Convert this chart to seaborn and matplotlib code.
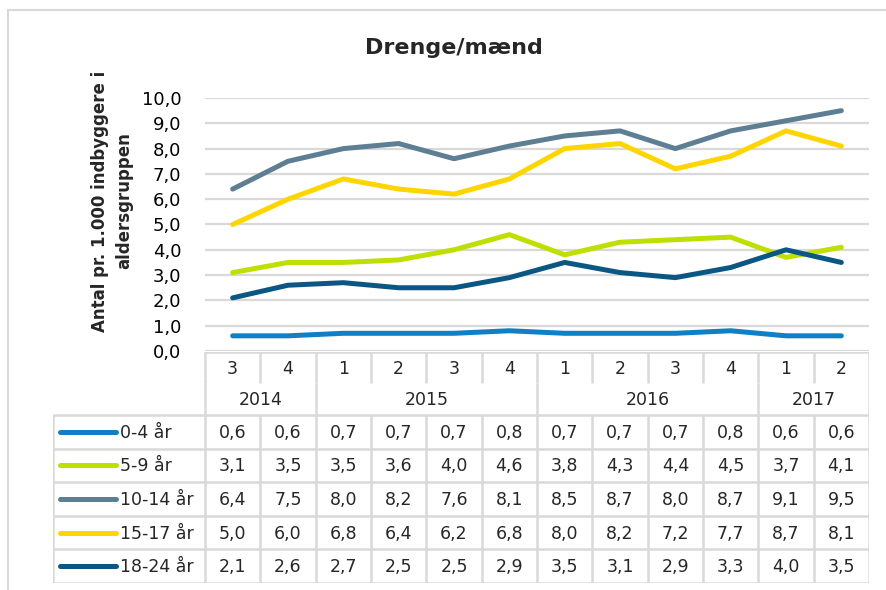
import matplotlib
matplotlib.use("Agg")
import matplotlib.pyplot as plt
import matplotlib.patches as mpatches
from matplotlib.ticker import FuncFormatter
import seaborn as sns
import pandas as pd

# ---- data ----
quarters = ["3", "4", "1", "2", "3", "4", "1", "2", "3", "4", "1", "2"]
years = ["2014", "2015", "2016", "2017"]
year_spans = [2, 4, 4, 2]
series_names = ["0-4 år", "5-9 år", "10-14 år", "15-17 år", "18-24 år"]
v_0_4 = [0.6, 0.6, 0.7, 0.7, 0.7, 0.8, 0.7, 0.7, 0.7, 0.8, 0.6, 0.6]
v_5_9 = [3.1, 3.5, 3.5, 3.6, 4.0, 4.6, 3.8, 4.3, 4.4, 4.5, 3.7, 4.1]
v_10_14 = [6.4, 7.5, 8.0, 8.2, 7.6, 8.1, 8.5, 8.7, 8.0, 8.7, 9.1, 9.5]
v_15_17 = [5.0, 6.0, 6.8, 6.4, 6.2, 6.8, 8.0, 8.2, 7.2, 7.7, 8.7, 8.1]
v_18_24 = [2.1, 2.6, 2.7, 2.5, 2.5, 2.9, 3.5, 3.1, 2.9, 3.3, 4.0, 3.5]
series_values = [v_0_4, v_5_9, v_10_14, v_15_17, v_18_24]
colors = ["#0f7fc6", "#bfdf00", "#5e7e94", "#ffd500", "#0b5784"]
title = "Drenge/mænd"
ylabel = "Antal pr. 1.000 indbyggere i\naldersgruppen"

sns.set_theme(style="white")
plt.rcParams["font.family"] = ["DejaVu Sans"]

W, H = 886, 590
fig = plt.figure(figsize=(W / 100, H / 100), dpi=100)

def fx(px):
    return px / W

def fy(py):
    return 1 - py / H

FS = 12.5

# main axes
ax_left, ax_right, ax_top, ax_bot = 205, 869, 98, 351
ax = fig.add_axes([fx(ax_left), fy(ax_bot), fx(ax_right - ax_left), (ax_bot - ax_top) / H])

rows = []
for name, vals in zip(series_names, series_values):
    for i, v in enumerate(vals):
        rows.append({"pos": i, "value": v, "serie": name})
df = pd.DataFrame(rows)

sns.lineplot(data=df, x="pos", y="value", hue="serie", palette=colors,
             hue_order=series_names, ax=ax, lw=3.6, legend=False,
             solid_capstyle="round", solid_joinstyle="round")
ncol = len(quarters)
ax.set_xlim(-0.5, ncol - 0.5)
ax.set_ylim(0, 10)
ax.set_yticks(range(0, 11))
ax.yaxis.set_major_formatter(FuncFormatter(lambda v, p: f"{v:.1f}".replace(".", ",")))
ax.tick_params(axis="y", length=0, pad=17, labelsize=13, labelcolor="black")
ax.set_xticks([])
ax.set_xlabel("")
ax.set_ylabel("")
ax.grid(axis="y", color="#d9d9d9", lw=1.6)
ax.set_axisbelow(True)
for s in ax.spines.values():
    s.set_visible(False)

fig.text(fx(454), fy(48), title, ha="center", va="center", fontsize=16, fontweight="bold")
fig.text(fx(112), fy(201), ylabel, ha="center", va="center", rotation=90,
         fontsize=12, fontweight="bold", multialignment="center", linespacing=1.45)

# table axes (x in category units, y in pixel units)
tab_left, tab_top, tab_bot = 53, 352, 583
colw = (ax_right - ax_left) / ncol
tab = fig.add_axes([fx(tab_left), fy(tab_bot), fx(ax_right - tab_left), (tab_bot - tab_top) / H])
x_leg = -0.5 - (ax_left - tab_left) / colw
tab.set_xlim(x_leg, ncol - 0.5)
tab.set_ylim(tab_bot, tab_top)
tab.axis("off")

gc = "#d9d9d9"
glw = 1.8
q_top, q_bot, y_bot = 352, 383, 415
row_h = (tab_bot - y_bot) / len(series_names)

# quarter row
for i, q in enumerate(quarters):
    tab.text(i, (q_top + q_bot) / 2 + 1, q, ha="center", va="center", fontsize=FS)
for b in range(ncol + 1):
    tab.plot([b - 0.5, b - 0.5], [q_top, q_bot], color=gc, lw=glw, solid_capstyle="butt")
tab.plot([-0.5, ncol - 0.5], [q_top, q_top], color=gc, lw=glw)

# year row
start = 0
edges = [-0.5]
for yname, span in zip(years, year_spans):
    tab.text(start + (span - 1) / 2, (q_bot + y_bot) / 2 + 1, yname, ha="center", va="center", fontsize=FS)
    start += span
    edges.append(start - 0.5)
for e in edges:
    tab.plot([e, e], [q_bot, y_bot], color=gc, lw=glw, solid_capstyle="butt")

# data rows
for r, (name, vals, c) in enumerate(zip(series_names, series_values, colors)):
    yc = y_bot + (r + 0.5) * row_h
    tab.plot([x_leg + 7 / colw, x_leg + 63 / colw], [yc, yc], color=c, lw=3.6, solid_capstyle="round")
    tab.text(x_leg + 67 / colw, yc + 1, name, ha="left", va="center", fontsize=FS)
    for i, v in enumerate(vals):
        tab.text(i, yc + 1, f"{v:.1f}".replace(".", ","), ha="center", va="center", fontsize=FS)
for r in range(len(series_names) + 1):
    yy = y_bot + r * row_h
    tab.plot([x_leg, ncol - 0.5], [yy, yy], color=gc, lw=glw)
for b in [x_leg] + [i - 0.5 for i in range(ncol + 1)]:
    tab.plot([b, b], [y_bot, tab_bot], color=gc, lw=glw, solid_capstyle="butt")

# outer chart border
fig.patches.append(mpatches.Rectangle((fx(8), -0.1), 2, fy(10) + 0.1, transform=fig.transFigure,
                                      fill=False, edgecolor="#d9d9d9", lw=1.5))

fig.savefig("out.png", dpi=100)
